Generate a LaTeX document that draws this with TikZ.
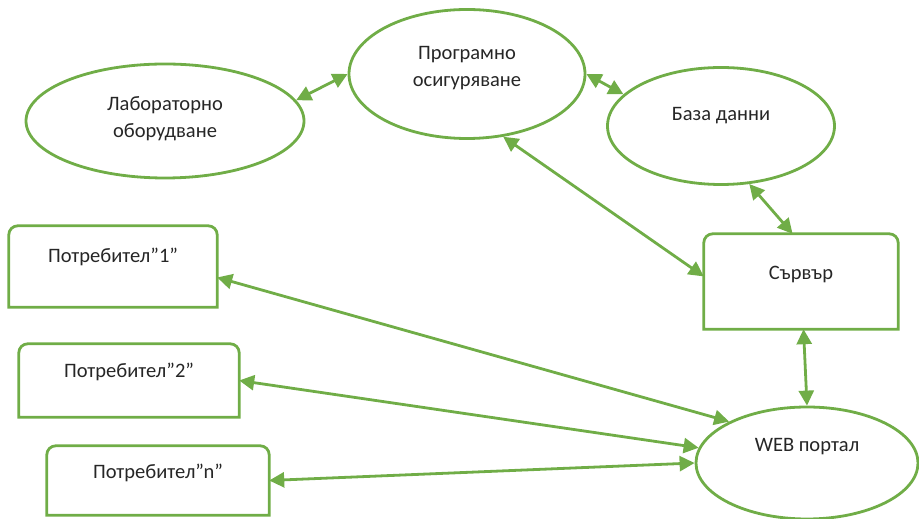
\documentclass[tikz,border=0pt]{standalone}
\usepackage{fontspec}
\setmainfont{Carlito}
\usetikzlibrary{shapes.geometric,arrows.meta}
\definecolor{leaf}{HTML}{70AD47}
% box with rounded top corners and a square bottom
\newcommand{\tabbox}[1]{%
	\draw[frame] (#1.south west) -- ([yshift=-9pt]#1.north west)
		arc[start angle=180,end angle=90,radius=9pt] -- ([xshift=-9pt]#1.north east)
		arc[start angle=90,end angle=0,radius=9pt] -- (#1.south east) -- cycle;}
\begin{document}
\begin{tikzpicture}[x=1pt,y=1pt,
	frame/.style={draw=leaf,line width=2.8pt},
	oval/.style={ellipse,draw=leaf,line width=2.8pt,inner sep=0pt},
	box/.style={rectangle,inner sep=0pt},
	txt/.style={font=\fontsize{20.5}{27}\selectfont,align=center,text=black!85},
	link/.style={draw=leaf,line width=2.8pt,{Triangle[length=15pt,width=15pt]}-{Triangle[length=15pt,width=15pt]}}]
	\useasboundingbox (0,0) rectangle (919,519);

	% ellipses
	\node[oval,minimum width=278pt,minimum height=114pt] (lab) at (165,398) {};
	\node[oval,minimum width=236pt,minimum height=129pt] (prog) at (467,445) {};
	\node[oval,minimum width=227pt,minimum height=117pt] (db) at (721,393) {};
	\node[oval,minimum width=222pt,minimum height=112pt] (web) at (807,56) {};

	% boxes
	\node[box,minimum width=194pt,minimum height=95pt] (srv) at (801,237.5) {};
	\node[box,minimum width=208pt,minimum height=81pt] (p1) at (113,252.5) {};
	\node[box,minimum width=220pt,minimum height=73pt] (p2) at (129,138.5) {};
	\node[box,minimum width=222pt,minimum height=69pt] (pn) at (158,38.5) {};
	\tabbox{srv}
	\tabbox{p1}
	\tabbox{p2}
	\tabbox{pn}

	% texts
	\node[txt] (labtxt) at ([yshift=2pt]lab.center) {Лабораторно\\оборудване};
	\node[txt] (progtxt) at ([yshift=5.5pt]prog.center) {Програмно\\осигуряване};
	\node[txt] (dbtxt) at ([yshift=10pt]db.center) {База данни};
	\node[txt] (webtxt) at ([yshift=16pt]web.center) {WEB портал};
	\node[txt] (srvtxt) at ([yshift=6.5pt]srv.center) {Сървър};
	\node[txt] (p1txt) at ([yshift=9.5pt]p1.center) {Потребител”1”};
	\node[txt] (p2txt) at ([yshift=8.5pt]p2.center) {Потребител”2”};
	\node[txt] (pntxt) at ([yshift=7.5pt]pn.center) {Потребител”n”};

	% links
	\draw[link] (lab.9) -- (prog.west);
	\draw[link] (prog.east) -- (db.162);
	\draw[link] (prog.-60) -- (srv.177);
	\draw[link] (db.-64) -- (srv.100);
	\draw[link] (srv.-87) -- (web.north);
	\draw[link] (p1.-6) -- (web.152);
	\draw[link] (p2.east) -- (web.172);
	\draw[link] (pn.east) -- (web.west);
\end{tikzpicture}
\end{document}
